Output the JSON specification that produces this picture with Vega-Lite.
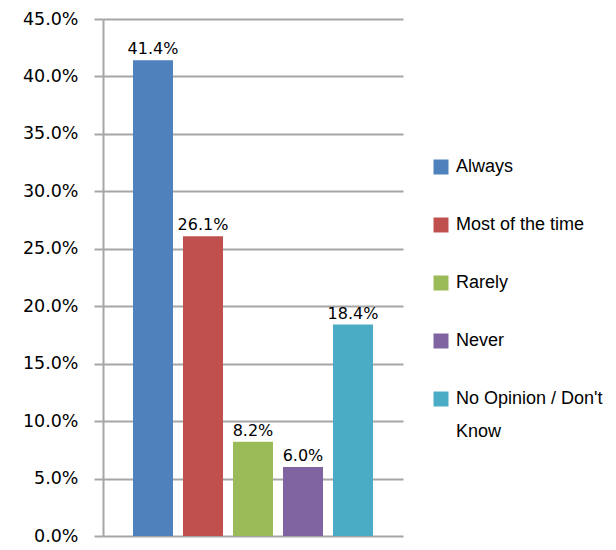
{
  "$schema": "https://vega.github.io/schema/vega-lite/v6.json",
  "autosize": {"type": "none"},
  "width": 300,
  "height": 517,
  "padding": {"left": 103, "top": 19, "right": 213, "bottom": 14},
  "background": "white",
  "config": {"view": {"stroke": null}, "style": {"guide-label": {"lineHeight": 33}}},
  "data": {
    "values": [
      {"response": "Always", "pct": 0.414},
      {"response": "Most of the time", "pct": 0.261},
      {"response": "Rarely", "pct": 0.082},
      {"response": "Never", "pct": 0.06},
      {"response": "No Opinion / Don't Know", "pct": 0.184}
    ]
  },
  "encoding": {
    "x": {
      "field": "response", "type": "nominal", "sort": null,
      "scale": {"paddingInner": 0.2, "paddingOuter": 0.6},
      "axis": null
    },
    "y": {
      "field": "pct", "type": "quantitative",
      "scale": {"domain": [0, 0.45], "nice": false},
      "axis": {
        "title": null, "format": ".1%", "values": [0, 0.05, 0.1, 0.15, 0.2, 0.25, 0.3, 0.35, 0.4, 0.45],
        "labelFont": "DejaVu Sans", "labelFontSize": 17.5, "labelColor": "#000000",
        "labelPadding": 16, "tickSize": 9, "tickColor": "#a6a6a6", "tickWidth": 2,
        "domainColor": "#a6a6a6", "domainWidth": 2,
        "gridColor": "#a6a6a6", "gridWidth": 2
      }
    }
  },
  "layer": [
    {
      "mark": {"type": "bar"},
      "encoding": {
        "color": {
          "field": "response", "type": "nominal", "sort": null,
          "scale": {
            "domain": ["Always", "Most of the time", "Rarely", "Never", "No Opinion / Don't Know"],
            "range": ["#4f81bd", "#c0504d", "#9bbb59", "#8064a2", "#4bacc6"]
          },
          "legend": {
            "title": null, "orient": "none", "legendX": 329, "legendY": 139,
            "padding": 0, "symbolType": "square", "symbolSize": 225,
            "symbolStrokeWidth": 0, "symbolOpacity": 1,
            "labelFont": "Liberation Sans", "labelFontSize": 18, "labelColor": "#000000",
            "labelOffset": 6, "rowPadding": 40, "labelLimit": 300,
            "labelBaseline": "middle",
            "labelExpr": "datum.label == \"No Opinion / Don't Know\" ? [\"No Opinion / Don't\", 'Know'] : datum.label"
          }
        }
      }
    },
    {
      "mark": {"type": "text", "dy": -11, "font": "DejaVu Sans", "fontSize": 16, "color": "#000000"},
      "encoding": {"text": {"field": "pct", "type": "quantitative", "format": ".1%"}}
    }
  ]
}
